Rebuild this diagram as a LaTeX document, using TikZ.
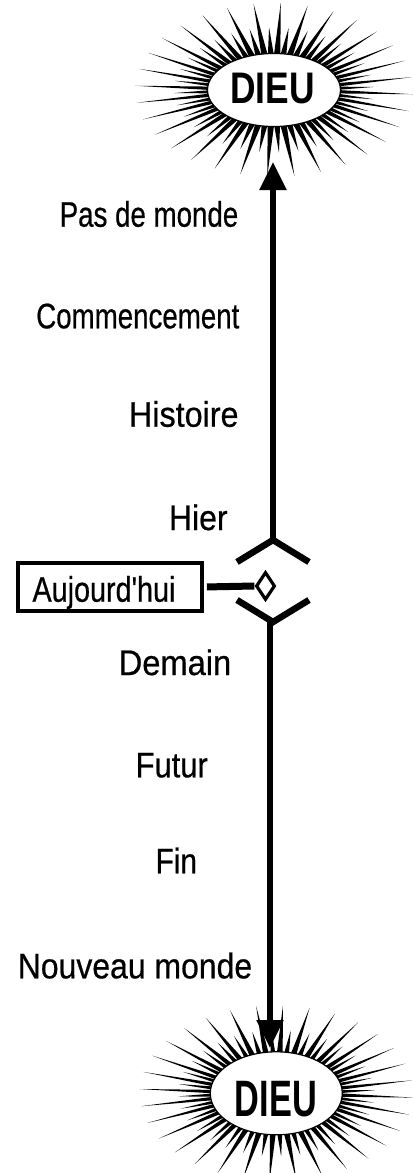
\documentclass[tikz,border=0pt]{standalone}
\usepackage{fontspec}
\setmainfont{Liberation Sans}[Ligatures=TeXOff]
\newfontfamily\lblfont{Liberation Sans}[Ligatures=TeXOff, FakeBold=0.6]
\usetikzlibrary{shapes.geometric,arrows.meta}
\tikzset{
  lbl/.style={anchor=base, inner sep=0pt, font=\lblfont\fontsize{35.5}{40}\selectfont},
  dieutxt/.style={anchor=base, inner sep=0pt},
  core/.style={ellipse, draw, fill=white, line width=1.2pt, inner sep=0pt},
  axis/.style={line width=5.5pt},
  chev/.style={line width=6.5pt, line join=miter},
  ray/.style={fill=black},
  nowbox/.style={draw, line width=3.8pt, inner sep=0pt, minimum width=184pt, minimum height=48pt},
  nowmark/.style={diamond, draw, line width=3.2pt, inner sep=0pt, minimum width=19pt, minimum height=28pt, fill=white},
  arrowtip/.style={-{Triangle[length=28pt,width=26pt]}},
}
\newcommand\myburst[4]{%
  \begin{scope}[shift={(#1,#2)}]
    \foreach \k in {0,...,63}{
      \pgfmathsetmacro\myang{\k*5.625+2.8}
      \pgfmathsetmacro\myfac{1-0.28*mod(\k,2)}
      \pgfmathsetmacro\myox{#3*\myfac*cos(\myang)}
      \pgfmathsetmacro\myoy{#4*\myfac*sin(\myang)}
      \fill[ray] ({58*cos(\myang-3.4)},{31*sin(\myang-3.4)}) -- (\myox,\myoy) -- ({58*cos(\myang+3.4)},{31*sin(\myang+3.4)}) -- cycle;
    }
  \end{scope}}
\begin{document}
\begin{tikzpicture}[x=1pt,y=-1pt]
\useasboundingbox (0,0) rectangle (414,1173);

% top burst
\myburst{274}{90}{139}{87}
\node[core, minimum width=133pt, minimum height=73pt] (dieuTop) at (274,90) {};
\node[dieutxt, font=\fontsize{44.2}{50}\selectfont\bfseries] (dieuTopTxt) at (272.5,103.3) {\scalebox{0.8}[1]{DIEU}};

% bottom burst
\myburst{276.3}{1093.3}{137}{88}
\node[core, minimum width=132pt, minimum height=83pt] (dieuBot) at (276.3,1093.3) {};
\node[dieutxt, font=\fontsize{51.2}{56}\selectfont\bfseries] (dieuBotTxt) at (275.8,1116.7) {\scalebox{0.67}[1]{DIEU}};

% chevrons and axis
\coordinate (hierApex) at (273,540);
\coordinate (demApex) at (273,622);
\coordinate (botStart) at (270,622);
\coordinate (topTip) at (273,162);
\coordinate (botTip) at (270,1048);
\coordinate (hierL) at (237,562);
\coordinate (hierR) at (309,562);
\coordinate (demL) at (237,600);
\coordinate (demR) at (309,600);

\draw[axis, arrowtip] (hierApex) -- (topTip);
\draw[axis, arrowtip] (botStart) -- (botTip);
\draw[chev] (hierL) -- (hierApex) -- (hierR);
\draw[chev] (demL) -- (demApex) -- (demR);

% today
\node[nowbox] (auj) at (110,587) {};
\node[lbl] (aujTxt) at (104,601.7) {\scalebox{0.81}[1]{Aujourd'hui}};
\node[nowmark] (now) at (265.5,586) {};
\draw[line width=7pt, shorten <=3pt] (auj.east) -- (now.west);

% labels
\node[lbl] (pas) at (149,226.7) {\scalebox{0.78}[1]{Pas de monde}};
\node[lbl] (comm) at (137.8,328.3) {\scalebox{0.78}[1]{Commencement}};
\node[lbl] (hist) at (183.8,426.7) {\scalebox{0.91}[1]{Histoire}};
\node[lbl] (hier) at (198.3,530) {\scalebox{0.9}[1]{Hier}};
\node[lbl] (dem) at (175,675) {\scalebox{0.92}[1]{Demain}};
\node[lbl] (fut) at (171.7,777.3) {\scalebox{0.87}[1]{Futur}};
\node[lbl] (fin) at (176.3,873.3) {\scalebox{0.84}[1]{Fin}};
\node[lbl] (nouv) at (135,978.3) {\scalebox{0.9}[1]{Nouveau monde}};
\end{tikzpicture}
\end{document}
